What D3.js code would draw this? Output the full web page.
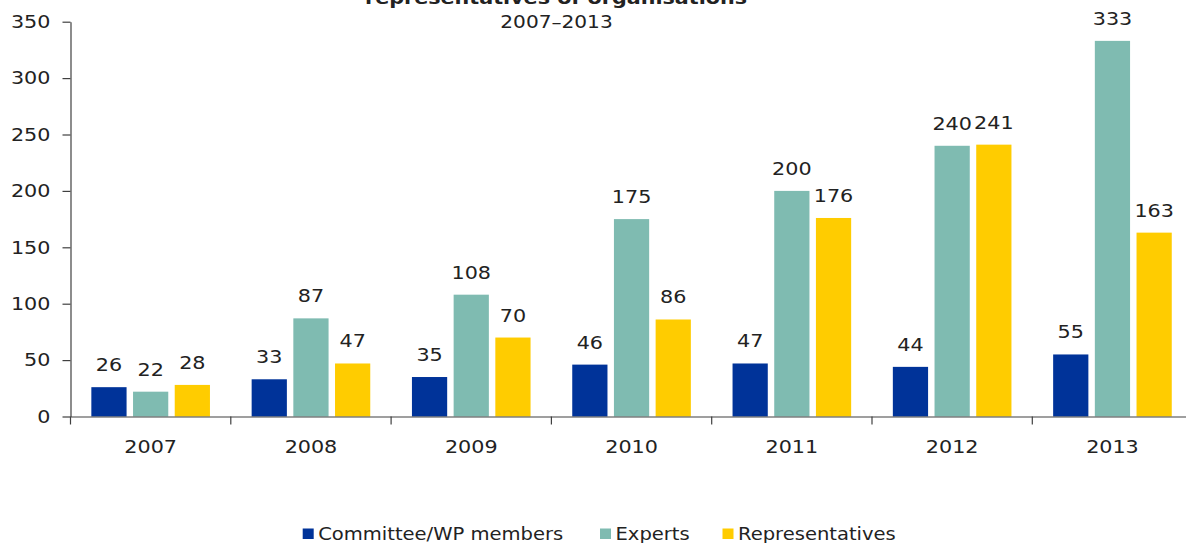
<!DOCTYPE html>
<html>
<head>
<meta charset="utf-8">
<script src="https://cdn.jsdelivr.net/npm/d3@7/dist/d3.min.js"></script>
<style>
  html, body { margin: 0; padding: 0; background: #fff; }
  svg { display: block; }
  text { font-family: "DejaVu Sans", Verdana, sans-serif; fill: #222; }
</style>
</head>
<body>
<svg id="chart" width="1186" height="543"></svg>
<script>
// Participants per year, by type
const years = ["2007", "2008", "2009", "2010", "2011", "2012", "2013"];
const seriesNames = ["Committee/WP members", "Experts", "Representatives"];
const committeeMembers = [26, 33, 35, 46, 47, 44, 55];
const experts = [22, 87, 108, 175, 200, 240, 333];
const representatives = [28, 47, 70, 86, 176, 241, 163];
const yTicks = [0, 50, 100, 150, 200, 250, 300, 350];
const seriesColors = ["#003399", "#7fbbb1", "#ffcc00"];

const seriesValues = [committeeMembers, experts, representatives];
const W = 1186, H = 543;
const SX = 1.15; // horizontal text widening

const svg = d3.select("#chart");

const x = d3.scaleBand().domain(years).range([70.5, 70.5 + 7 * 160.3]).padding(0);
const x1 = d3.scaleBand().domain(seriesNames).range([0, x.bandwidth()])
  .paddingInner(0.155).paddingOuter(0.5);
const y = d3.scaleLinear().domain([0, 350]).range([416.5, 21.7]);
const color = d3.scaleOrdinal().domain(seriesNames).range(seriesColors);

const rows = years.map((yr, i) => ({
  year: yr,
  values: seriesNames.map((s, k) => ({ series: s, value: seriesValues[k][i] }))
}));

// Title (top line runs past the upper edge) and subtitle
svg.append("text")
  .attr("transform", `translate(556,4) scale(${SX},1)`)
  .attr("text-anchor", "middle")
  .style("font-size", "18px").style("font-weight", "bold")
  .text("representatives of organisations");
svg.append("text")
  .attr("transform", `translate(556.5,28.3) scale(${SX},1)`)
  .attr("text-anchor", "middle")
  .style("font-size", "17.5px")
  .text("2007\u20132013");

// Bars
const groups = svg.append("g").selectAll("g").data(rows).join("g")
  .attr("transform", d => `translate(${x(d.year)},0)`);

groups.selectAll("rect").data(d => d.values).join("rect")
  .attr("x", d => x1(d.series))
  .attr("width", x1.bandwidth())
  .attr("y", d => y(d.value))
  .attr("height", d => y(0) - y(d.value))
  .attr("fill", d => color(d.series));

// Value labels
groups.selectAll("text.val").data(d => d.values).join("text")
  .attr("class", "val")
  .attr("transform", d => `translate(${x1(d.series) + x1.bandwidth() / 2},${y(d.value) - 16}) scale(${SX},1)`)
  .attr("text-anchor", "middle")
  .style("font-size", "18px")
  .text(d => d.value);

// Y axis
const yAxis = svg.append("g")
  .attr("transform", `translate(${x.range()[0]},0)`)
  .call(d3.axisLeft(y).tickValues(yTicks).tickSize(8).tickPadding(9.5).tickSizeOuter(0));
yAxis.select(".domain").attr("stroke", "#404040").attr("stroke-width", 1.2);
yAxis.selectAll(".tick line").attr("stroke", "#404040").attr("stroke-width", 1.2);
yAxis.selectAll(".tick text")
  .attr("transform", `scale(${SX},1)`)
  .style("font-size", "18px").style("font-family", "DejaVu Sans").attr("fill", "#222");

// X axis: baseline, boundary ticks and year labels
const xAxis = svg.append("g")
  .attr("transform", `translate(0,${y(0)})`)
  .call(d3.axisBottom(x).tickSize(0).tickSizeOuter(0));
xAxis.select(".domain").attr("stroke", "#404040").attr("stroke-width", 1.2);
xAxis.selectAll(".tick text")
  .attr("y", 36.5).attr("dy", 0)
  .attr("transform", `scale(${SX},1)`)
  .style("font-size", "18px").style("font-family", "DejaVu Sans").attr("fill", "#222");

svg.append("g").selectAll("line").data(years).join("line")
  .attr("x1", d => x(d)).attr("x2", d => x(d))
  .attr("y1", y(0)).attr("y2", y(0) + 8)
  .attr("stroke", "#404040").attr("stroke-width", 1.2);

// Legend
const legendX = [302.7, 600, 722.5];
const legend = svg.append("g").selectAll("g").data(seriesNames).join("g")
  .attr("transform", (d, i) => `translate(${legendX[i]},540)`);
legend.append("rect")
  .attr("x", 0).attr("y", -11.5).attr("width", 11).attr("height", 10.5)
  .attr("fill", d => color(d));
legend.append("text")
  .attr("transform", `translate(15.5,0) scale(${SX},1)`)
  .style("font-size", "17px")
  .text(d => d);
</script>
</body>
</html>
